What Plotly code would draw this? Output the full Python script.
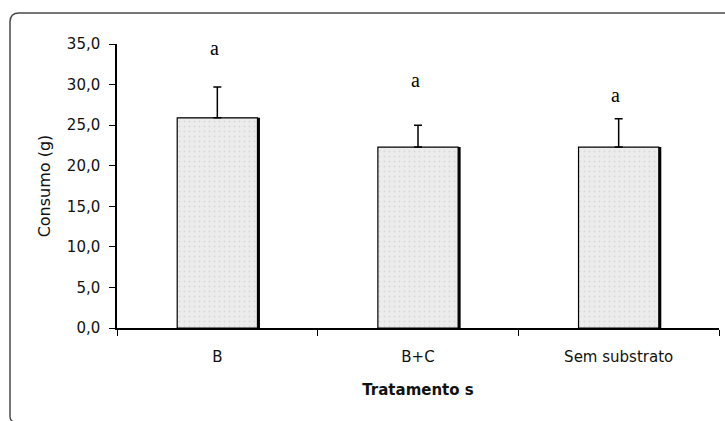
import plotly.graph_objects as go

categories = ["B", "B+C", "Sem substrato"]
consumo = [25.9, 22.3, 22.3]
erro = [3.8, 2.7, 3.5]
letters = ["a", "a", "a"]
letter_y = [34.5, 30.6, 28.7]

W, H = 725, 421
L, R, T, B = 117, 6, 44, 93
pw, ph = W - L - R, H - T - B

def px(x):
    return (x - L) / pw

def py(y):
    return (H - B - y) / ph

SANS = "DejaVu Sans, Arial, sans-serif"

fig = go.Figure()

# shadow to thicken right edge
fig.add_trace(go.Bar(
    x=categories, y=consumo, width=0.4, offset=-0.2 + 2.5 / 201,
    marker=dict(color="black", line=dict(width=0)),
    hoverinfo="skip", showlegend=False,
))
fig.add_trace(go.Bar(
    x=categories, y=consumo, width=0.4, offset=-0.2,
    marker=dict(color="#ebebeb", line=dict(color="black", width=1.2),
                pattern=dict(shape=".", fgcolor="#c4c4c4", bgcolor="#ececec",
                             size=5, solidity=0.12)),
    error_y=dict(type="data", array=erro, arrayminus=[0] * len(erro),
                 symmetric=False, color="black", thickness=1.5, width=4),
    showlegend=False,
))

for c, t, yv in zip(categories, letters, letter_y):
    fig.add_annotation(x=c, y=yv, text=t, showarrow=False, xshift=-3,
                       font=dict(family="Liberation Serif, Times New Roman, serif",
                                 size=20, color="black"))

# rounded frame
x0, y0 = px(10), py(13)
r_x, r_y = 9 / pw, 9 / ph
path = (f"M {px(726)} {y0} L {x0 + r_x} {y0} Q {x0} {y0} {x0} {y0 - r_y} "
        f"L {x0} {py(416)} Q {x0} {py(421)} {px(14)} {py(422)}")
fig.add_shape(type="path", path=path, xref="paper", yref="paper",
              line=dict(color="#4a4a4a", width=1.5))

fig.update_layout(
    width=W, height=H,
    margin=dict(l=L, r=R, t=T, b=B),
    paper_bgcolor="white", plot_bgcolor="white",
    barmode="overlay",
    separators=",.",
    font=dict(family=SANS, size=15, color="#111111"),
    xaxis=dict(
        showline=True, linecolor="black", linewidth=1.5,
        ticks="outside", ticklen=6, tickcolor="black", tickwidth=1.2,
        tickson="boundaries", showgrid=False, ticklabelstandoff=14,
        title=dict(text="<b>Tratamento s</b>", font=dict(size=15, family=SANS), standoff=20),
        tickfont=dict(size=15),
    ),
    yaxis=dict(
        range=[0, 35], dtick=5, tickformat=".1f",
        showline=True, linecolor="black", linewidth=1.5,
        ticks="outside", ticklen=6, tickcolor="black", tickwidth=1.2,
        showgrid=False, zeroline=False, ticklabelstandoff=6,
        title=dict(text="Consumo (g)", font=dict(size=16, family=SANS), standoff=12),
        tickfont=dict(size=15),
    ),
)

fig.write_html("out.html")
